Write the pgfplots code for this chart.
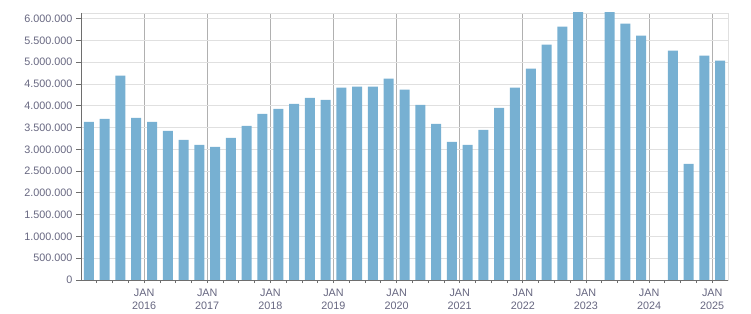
\documentclass[border=0pt]{standalone}
\usepackage{pgfplots}
\pgfplotsset{compat=1.18}
\usepackage{fontspec}
\setmainfont{Liberation Sans}
\definecolor{barc}{RGB}{119,176,210}
\definecolor{txtc}{RGB}{102,102,128}
\definecolor{hgrid}{RGB}{224,224,224}
\definecolor{vgrid}{RGB}{176,176,176}
\definecolor{axc}{RGB}{110,110,110}
\pgfplotstableread{
x y
0.5 3632000
1.5 3701000
2.5 4690000
3.5 3724000
4.5 3632000
5.5 3425000
6.5 3218000
7.5 3104000
8.5 3058000
9.5 3264000
10.5 3540000
11.5 3816000
12.5 3931000
13.5 4046000
14.5 4184000
15.5 4138000
16.5 4414000
17.5 4437000
18.5 4437000
19.5 4621000
20.5 4368000
21.5 4023000
22.5 3586000
23.5 3172000
24.5 3104000
25.5 3448000
26.5 3954000
27.5 4414000
28.5 4851000
29.5 5402000
30.5 5816000
31.5 6200000
33.5 6200000
34.5 5885000
35.5 5609000
37.5 5265000
38.5 2667000
39.5 5150000
40.5 5035000
}\datatable
\begin{document}
\begin{tikzpicture}
\useasboundingbox (0,0) rectangle (751pt,313pt);
\begin{axis}[
  name=ax,
  at={(81pt,33pt)}, anchor=south west,
  scale only axis, width=647pt, height=267pt,
  xmin=0, xmax=41, ymin=0, ymax=6130000,
  axis line style={draw=hgrid},
  ybar, bar width=10pt,
  tick align=outside,
  xtick={4,8,...,40},
  xticklabels={JAN\\2016,JAN\\2017,JAN\\2018,JAN\\2019,JAN\\2020,JAN\\2021,JAN\\2022,JAN\\2023,JAN\\2024,JAN\\2025},
  xtick style={draw=none},
  minor xtick={1,2,...,40},
  minor tick length=3pt,
  minor x tick style={draw=axc, line width=0.8pt},
  x tick label style={align=center, font=\fontsize{10.8}{13}\selectfont, text=txtc, yshift=-1pt},
  ytick={0,500000,...,6000000},
  major tick length=5pt,
  y tick style={draw=axc, line width=0.8pt},
  y tick label style={font=\fontsize{10.8}{13}\selectfont, text=txtc},
  scaled y ticks=false,
  yticklabel={\pgfmathprintnumber[fixed,precision=0,1000 sep={.},assume math mode=true]{\tick}},
  xmajorgrids, ymajorgrids,
  x grid style={draw=vgrid, line width=0.8pt},
  y grid style={draw=hgrid, line width=0.8pt},
  xtick pos=bottom, ytick pos=left,
]
\addplot[fill=barc, draw=none, bar shift=0pt] table[x=x,y=y] {\datatable};
\end{axis}
\draw[axc, line width=1pt] (ax.north west) -- (ax.south west) -- (ax.south east);
\end{tikzpicture}
\end{document}
